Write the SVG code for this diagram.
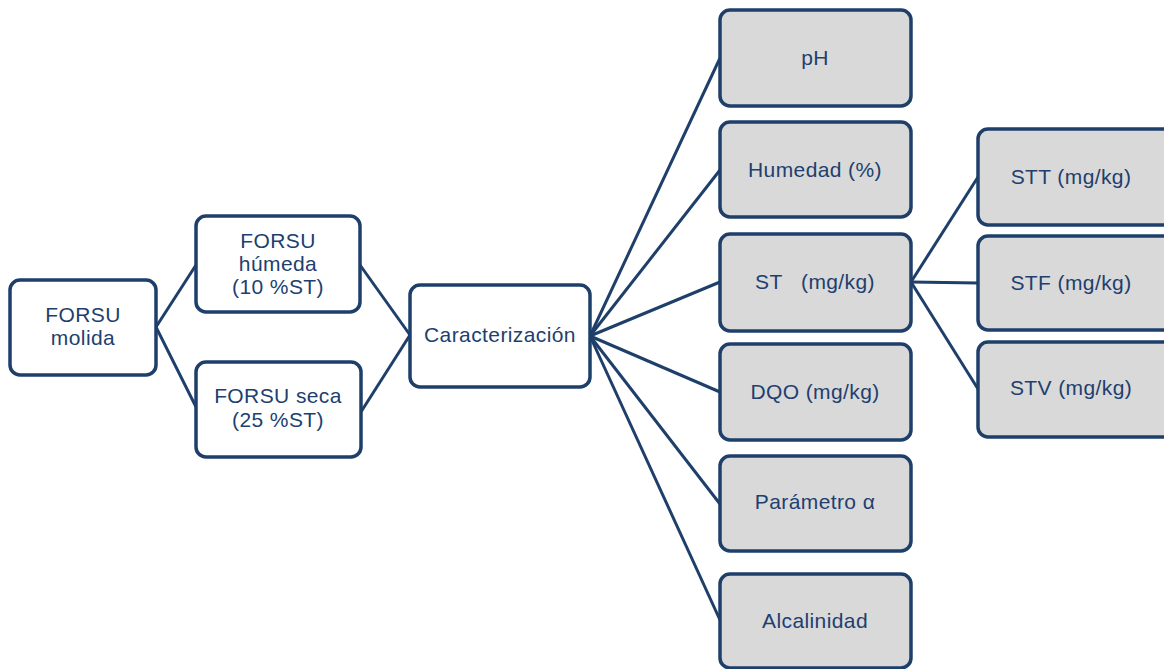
<svg xmlns="http://www.w3.org/2000/svg" width="1164" height="669" viewBox="0 0 1164 669">
<style>
.b{stroke:#1f3f6b;stroke-width:3.5;}
.w{fill:#ffffff;}
.g{fill:#d9d9d9;}
.t{font-family:"Liberation Sans",Arial,sans-serif;font-size:21px;letter-spacing:0.4px;fill:#213f6e;text-anchor:middle;}
.c{stroke:#1f3f6b;stroke-width:3;fill:none;}
</style>
<rect width="1164" height="669" fill="#ffffff"/>
<g id="connectors">
<line class="c" x1="156" y1="327" x2="196" y2="265"/>
<line class="c" x1="156" y1="327" x2="196" y2="407"/>
<line class="c" x1="360" y1="265" x2="410" y2="335"/>
<line class="c" x1="359" y1="415" x2="410" y2="335"/>
<line class="c" x1="590" y1="336" x2="720" y2="58"/>
<line class="c" x1="590" y1="336" x2="720" y2="170"/>
<line class="c" x1="590" y1="336" x2="720" y2="282"/>
<line class="c" x1="590" y1="336" x2="720" y2="392"/>
<line class="c" x1="590" y1="336" x2="720" y2="504"/>
<line class="c" x1="590" y1="336" x2="720" y2="620"/>
<line class="c" x1="911" y1="282" x2="978" y2="177"/>
<line class="c" x1="911" y1="282" x2="978" y2="283"/>
<line class="c" x1="911" y1="282" x2="978" y2="389"/>
</g>
<g id="molida"><rect class="b w" x="10" y="280" width="146" height="95" rx="10"/><text class="t" x="83" y="322">FORSU</text><text class="t" x="83" y="345">molida</text></g>
<g id="humeda"><rect class="b w" x="196" y="216" width="164" height="96" rx="10"/><text class="t" x="278" y="248">FORSU</text><text class="t" x="278" y="271">húmeda</text><text class="t" x="278" y="294">(10 %ST)</text></g>
<g id="seca"><rect class="b w" x="196" y="362" width="165" height="95" rx="10"/><text class="t" x="278" y="403">FORSU seca</text><text class="t" x="278" y="427">(25 %ST)</text></g>
<g id="caracterizacion"><rect class="b w" x="410" y="285" width="180" height="102" rx="10"/><text class="t" x="500" y="342">Caracterización</text></g>
<g id="ph"><rect class="b g" x="720" y="10" width="191" height="96" rx="10"/><text class="t" x="815" y="65">pH</text></g>
<g id="humedad"><rect class="b g" x="720" y="122" width="191" height="95" rx="10"/><text class="t" x="815" y="177">Humedad (%)</text></g>
<g id="st"><rect class="b g" x="720" y="234" width="191" height="97" rx="10"/><text class="t" x="815" y="289" xml:space="preserve">ST   (mg/kg)</text></g>
<g id="dqo"><rect class="b g" x="720" y="344" width="191" height="96" rx="10"/><text class="t" x="815" y="399">DQO (mg/kg)</text></g>
<g id="parametro"><rect class="b g" x="720" y="456" width="191" height="95" rx="10"/><text class="t" x="815" y="509">Parámetro α</text></g>
<g id="alcalinidad"><rect class="b g" x="720" y="574" width="191" height="94" rx="10"/><text class="t" x="815" y="628">Alcalinidad</text></g>
<g id="stt"><rect class="b g" x="978" y="129" width="195" height="96" rx="10"/><text class="t" x="1071" y="184">STT (mg/kg)</text></g>
<g id="stf"><rect class="b g" x="978" y="236" width="195" height="94" rx="10"/><text class="t" x="1071" y="290">STF (mg/kg)</text></g>
<g id="stv"><rect class="b g" x="978" y="342" width="195" height="95" rx="10"/><text class="t" x="1071" y="395">STV (mg/kg)</text></g>
</svg>
